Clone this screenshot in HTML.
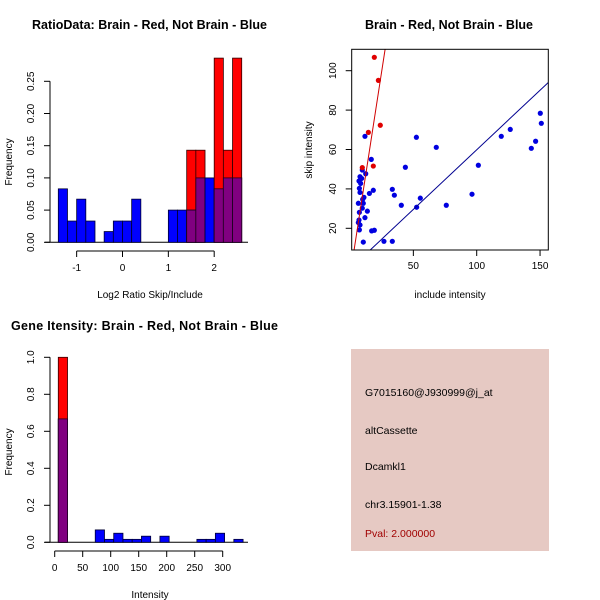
<!DOCTYPE html>
<html><head><meta charset="utf-8"><style>
body{margin:0;background:#fff}
svg{display:block;font-family:"Liberation Sans",sans-serif}
</style></head><body>
<svg id="c" width="600" height="600" xmlns="http://www.w3.org/2000/svg">
<text x="32" y="29" font-size="12.5" font-weight="bold" textLength="235">RatioData: Brain - Red, Not Brain - Blue</text>
<text x="365" y="29" font-size="12.5" font-weight="bold" textLength="168">Brain - Red, Not Brain - Blue</text>
<text x="11" y="330" font-size="12.5" font-weight="bold" textLength="267">Gene Itensity: Brain - Red, Not Brain - Blue</text>
<text x="150" y="298" font-size="10" text-anchor="middle">Log2 Ratio Skip/Include</text>
<text x="12" y="162" font-size="10" text-anchor="middle" transform="rotate(-90 12 162)">Frequency</text>
<text x="450" y="298" font-size="10" text-anchor="middle">include intensity</text>
<text x="312" y="150" font-size="10" text-anchor="middle" transform="rotate(-90 312 150)">skip intensity</text>
<text x="150" y="598" font-size="10" text-anchor="middle">Intensity</text>
<text x="12" y="452" font-size="10" text-anchor="middle" transform="rotate(-90 12 452)">Frequency</text>
<g>
<rect x="351" y="349" width="198" height="202" fill="#e6c9c3"/>
<text x="365" y="396" font-size="10.5">G7015160@J930999@j_at</text>
<text x="365" y="434" font-size="10.5">altCassette</text>
<text x="365" y="470" font-size="10.5">Dcamkl1</text>
<text x="365" y="508" font-size="10.5">chr3.15901-1.38</text>
<text x="365" y="537" font-size="10.5" fill="#a00000">Pval: 2.000000</text>
</g>
<g id="g1"></g><g id="g2"></g><g id="g3"></g>
</svg>
<script>
// Ratio histogram data (bins of 0.2 from -1.4)
const ratioBinStart = -1.4, ratioBinWidth = 0.2;
const ratioRed = [0,0,0,0,0,0,0,0,0,0,0,0,0,0,0.143,0.143,0,0.286,0.143,0.286];
const ratioBlue = [0.083,0.033,0.067,0.033,0,0.0167,0.033,0.033,0.067,0,0,0,0.05,0.05,0.05,0.1,0.1,0.083,0.1,0.1];
const ratioXTicks = [-1,0,1,2];
const ratioYTicks = [0,0.05,0.10,0.15,0.20,0.25];
const ratioYLabels = ["0.00","0.05","0.10","0.15","0.20","0.25"];
// Scatter data
const redX = [19.2,22.4,23.9,14.5,18.4,9.7];
const redY = [106.8,95.1,72.3,68.7,51.6,50.8];
const blueX = [11.8,16.8,9.7,12.4,7.9,9.2,7.1,8.4,7.4,7.9,15.3,18.4,11.0,10.0,6.6,10.5,9.7,13.7,7.4,11.8,7.1,6.6,7.9,7.4,17.1,19.2,10.5,26.8,33.4,33.4,35.0,40.5,43.7,52.4,52.6,55.5,68.1,76.0,96.3,101.3,119.4,126.5,143.1,146.5,150.2,151.0];
const blueY = [66.7,55.0,49.6,47.7,46.2,45.3,44.0,42.8,40.3,38.2,37.7,39.3,35.7,34.7,32.7,32.7,30.2,28.7,28.1,25.4,24.2,22.9,21.7,19.2,18.7,19.0,13.0,13.4,13.4,39.8,36.8,31.7,51.0,66.2,30.7,35.3,61.1,31.7,37.3,52.0,66.7,70.2,60.6,64.2,78.4,73.3];
const redFit = [-4.4, 4.16];   // intercept, slope
const blueFit = [-0.66, 0.605];
const scXTicks = [50,100,150];
const scYTicks = [20,40,60,80,100];
// Intensity histogram
const intBinStart = 6.4, intBinWidth = 16.5;
const intRed = [1.0,0,0,0,0,0,0,0,0,0,0,0,0,0,0,0,0,0,0,0];
const intBlue = [0.667,0,0,0,0.067,0.016,0.049,0.016,0.016,0.033,0,0.033,0,0,0,0.016,0.016,0.049,0,0.016];
const intXTicks = [0,50,100,150,200,250,300];
const intYTicks = [0,0.2,0.4,0.6,0.8,1.0];
const intYLabels = ["0.0","0.2","0.4","0.6","0.8","1.0"];

const NS="http://www.w3.org/2000/svg";
function mk(p,t,a){const e=document.createElementNS(NS,t);for(const k in a)e.setAttribute(k,a[k]);p.appendChild(e);return e;}

function hist(g,red,blue,bs,bw,xs,ys,xTicks,yTicks,yLabels,axY,axX){
  // baseline
  mk(g,'line',{x1:45,x2:248,y1:ys(0),y2:ys(0),stroke:'#000'});
  for(let i=0;i<red.length;i++){
    const x0=xs(bs+i*bw), x1=xs(bs+(i+1)*bw), w=x1-x0;
    const r=red[i], b=blue[i], m=Math.min(r,b);
    if(r>0){const e=mk(g,'rect',{x:x0,y:ys(r),width:w,height:ys(0)-ys(r),fill:'#ff0000',stroke:'#300000','stroke-width':0.8});
      
      }
    if(b>0){const e=mk(g,'rect',{x:x0,y:ys(b),width:w,height:ys(0)-ys(b),fill:'#0000ff',stroke:'#000030','stroke-width':0.8});
      
      }
    if(m>0){const e=mk(g,'rect',{x:x0,y:ys(m),width:w,height:ys(0)-ys(m),fill:'#800080',stroke:'#200020','stroke-width':0.8});
      
      }
  }
  mk(g,'line',{x1:axY,x2:axY,y1:ys(yTicks[0]),y2:ys(yTicks[yTicks.length-1]),stroke:'#000'});
  yTicks.forEach((v,i)=>{mk(g,'line',{x1:axY-6,x2:axY,y1:ys(v),y2:ys(v),stroke:'#000'});
    const t=mk(g,'text',{x:axY-16,y:ys(v),'font-size':10,'text-anchor':'middle',transform:`rotate(-90 ${axY-16} ${ys(v)})`});
    t.textContent=yLabels[i];
    
    });
  mk(g,'line',{x1:xs(xTicks[0]),x2:xs(xTicks[xTicks.length-1]),y1:axX,y2:axX,stroke:'#000'});
  xTicks.forEach(v=>{mk(g,'line',{x1:xs(v),x2:xs(v),y1:axX,y2:axX+6,stroke:'#000'});
    const t=mk(g,'text',{x:xs(v),y:axX+20,'font-size':10,'text-anchor':'middle'});
    t.textContent=v;
    
    });
}
// Panel 1
{const g=document.getElementById('g1');
 const xs=v=>122.5+v*45.85, ys=v=>242.3-v*644;
 hist(g,ratioRed,ratioBlue,ratioBinStart,ratioBinWidth,xs,ys,ratioXTicks,ratioYTicks,ratioYLabels,50,251);}
// Panel 3
{const g=document.getElementById('g3');
 const xs=v=>54.7+v*0.56, ys=v=>542.3-v*185;
 hist(g,intRed,intBlue,intBinStart,intBinWidth,xs,ys,intXTicks,intYTicks,intYLabels,50,551);}
// Panel 2 scatter
{const g=document.getElementById('g2');
 const xs=v=>350+v*1.267, ys=v=>228.3-(v-20)*1.97;
 const cp=mk(g,'clipPath',{id:'sc'});mk(cp,'rect',{x:351.7,y:49.3,width:196.6,height:200.7});
 const inner=mk(g,'g',{'clip-path':'url(#sc)'});
 blueX.forEach((x,i)=>{const c=mk(inner,'circle',{cx:xs(x),cy:ys(blueY[i]),r:2.6,fill:'#0000e0'});
   
   });
 redX.forEach((x,i)=>{const c=mk(inner,'circle',{cx:xs(x),cy:ys(redY[i]),r:2.6,fill:'#e00000'});
   
   });
 const l1=mk(inner,'line',{x1:xs(0),y1:ys(redFit[0]),x2:xs(40),y2:ys(redFit[0]+redFit[1]*40),stroke:'#d00000'});
 
 
 const l2=mk(inner,'line',{x1:xs(0),y1:ys(blueFit[0]),x2:xs(170),y2:ys(blueFit[0]+blueFit[1]*170),stroke:'#000090'});
 
 
 const box=mk(g,'rect',{x:351.7,y:49.3,width:196.6,height:200.7,fill:'none',stroke:'#000'});
 
 
 scXTicks.forEach(v=>{mk(g,'line',{x1:xs(v),x2:xs(v),y1:250,y2:256,stroke:'#000'});
   const t=mk(g,'text',{x:xs(v),y:269,'font-size':10,'text-anchor':'middle'});t.textContent=v;
   
   });
 scYTicks.forEach(v=>{mk(g,'line',{x1:345.7,x2:351.7,y1:ys(v),y2:ys(v),stroke:'#000'});
   const t=mk(g,'text',{x:336,y:ys(v),'font-size':10,'text-anchor':'middle',transform:`rotate(-90 336 ${ys(v)})`});t.textContent=v;
   
   });
}
</script>
</body></html>
